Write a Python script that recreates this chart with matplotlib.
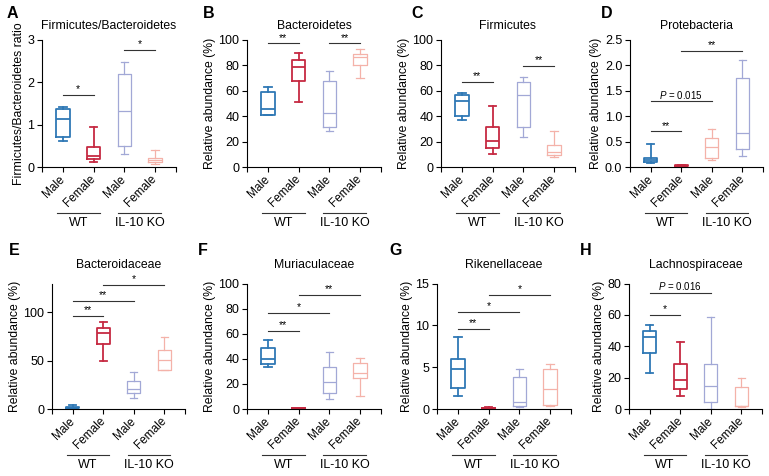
import matplotlib
matplotlib.use("Agg")
import matplotlib.pyplot as plt
import matplotlib.transforms as mtransforms

plt.rcParams['font.family'] = ['Liberation Sans', 'DejaVu Sans']
plt.rcParams['mathtext.fontset'] = 'custom'
plt.rcParams['mathtext.it'] = 'Liberation Sans:italic'
plt.rcParams['mathtext.rm'] = 'Liberation Sans'

groups = ["Male", "Female", "Male", "Female"]
genotypes = ["WT", "IL-10 KO"]

# each box: whisker low, q1, median, q3, whisker high
fb_ratio = [[0.61, 0.71, 1.13, 1.38, 1.41], [0.12, 0.19, 0.27, 0.47, 0.95],
            [0.31, 0.50, 1.33, 2.19, 2.49], [0.08, 0.12, 0.16, 0.22, 0.40]]
bacteroidetes = [[40.8, 41.3, 46.0, 58.7, 62.6], [51.0, 67.6, 79.0, 84.0, 90.0],
                 [28.0, 31.6, 42.6, 67.6, 75.8], [69.7, 80.5, 86.8, 88.7, 92.6]]
firmicutes = [[37.4, 40.3, 51.8, 57.0, 57.9], [10.0, 15.3, 20.5, 31.6, 48.4],
              [23.7, 31.6, 56.6, 67.0, 70.5], [7.9, 9.7, 11.8, 17.6, 28.4]]
protebacteria = [[0.085, 0.10, 0.13, 0.18, 0.46], [0.013, 0.02, 0.026, 0.033, 0.046],
                 [0.14, 0.18, 0.39, 0.57, 0.74], [0.22, 0.36, 0.67, 1.76, 2.11]]
bacteroidaceae = [[0.3, 0.7, 1.4, 2.1, 3.8], [50.0, 67.2, 78.6, 84.0, 90.0],
                  [11.3, 16.5, 21.0, 28.5, 38.8], [40.0, 40.0, 50.3, 60.7, 75.0]]
muriaculaceae = [[33.3, 36.0, 40.0, 48.8, 55.0], [0.3, 0.5, 0.7, 0.9, 1.1],
                 [8.3, 12.8, 21.3, 33.3, 45.6], [10.1, 25.0, 28.8, 36.8, 40.8]]
rikenellaceae = [[1.6, 2.52, 4.8, 6.0, 8.6], [0.05, 0.08, 0.1, 0.13, 0.2],
                 [0.2, 0.39, 0.87, 3.88, 4.76], [0.3, 0.5, 2.45, 4.76, 5.36]]
lachnospiraceae = [[23.0, 35.4, 45.8, 49.7, 53.5], [8.1, 13.0, 18.8, 29.0, 42.6],
                   [0.0, 4.3, 14.9, 28.4, 58.6], [1.3, 1.7, 2.1, 14.1, 19.8]]

# significance bars: (from group, to group, height, label)
sig_a = [(1, 2, 1.71, "*"), (3, 4, 2.76, "*")]
sig_b = [(1, 2, 97.4, "**"), (3, 4, 97.4, "**")]
sig_c = [(1, 2, 67.0, "**"), (3, 4, 79.5, "**")]
sig_d = [(1, 2, 0.70, "**"), (1, 3, 1.29, "$P$ = 0.015"), (2, 4, 2.28, "**")]
sig_e = [(1, 2, 96.6, "**"), (1, 3, 112.0, "**"), (2, 4, 128.6, "*")]
sig_f = [(1, 2, 62.4, "**"), (1, 3, 76.8, "*"), (2, 4, 90.7, "**")]
sig_g = [(1, 2, 9.6, "**"), (1, 3, 11.6, "*"), (2, 4, 13.6, "*")]
sig_h = [(1, 2, 60.0, "*"), (1, 3, 74.2, "$P$ = 0.016")]

BLUE = "#2f78b5"
RED = "#c62a42"
LAV = "#a2a8d6"
PINK = "#f4b2a9"
colors_std = [BLUE, RED, LAV, PINK]
colors_d = [BLUE, RED, PINK, LAV]
widths_std = [1.3, 1.3, 0.9, 0.9]

TOP_B, TOP_H = 1 - 167 / 476, 127 / 476
BOT_B, BOT_H = 1 - 409 / 476, 125.5 / 476
# (letter, title, ylabel, data, sig, ylim, yticks, colors, axes rect, letter x in px)
panels = [
    ("A", "Firmicutes/Bacteroidetes", "Firmicutes/Bacteroidetes ratio", fb_ratio, sig_a,
     (0, 3), [0, 1, 2, 3], colors_std, [42 / 769, TOP_B, 134 / 769, TOP_H], 7),
    ("B", "Bacteroidetes", "Relative abundance (%)", bacteroidetes, sig_b,
     (0, 100), [0, 20, 40, 60, 80, 100], colors_std, [247 / 769, TOP_B, 134 / 769, TOP_H], 203),
    ("C", "Firmicutes", "Relative abundance (%)", firmicutes, sig_c,
     (0, 100), [0, 20, 40, 60, 80, 100], colors_std, [441 / 769, TOP_B, 134 / 769, TOP_H], 411),
    ("D", "Protebacteria", "Relative abundance (%)", protebacteria, sig_d,
     (0, 2.5), [0.0, 0.5, 1.0, 1.5, 2.0, 2.5], colors_d, [630 / 769, TOP_B, 133 / 769, TOP_H], 601),
    ("E", "Bacteroidaceae", "Relative abundance (%)", bacteroidaceae, sig_e,
     (0, 130), [0, 50, 100], colors_std, [52 / 769, BOT_B, 133 / 769, BOT_H], 9),
    ("F", "Muriaculaceae", "Relative abundance (%)", muriaculaceae, sig_f,
     (0, 100), [0, 20, 40, 60, 80, 100], colors_std, [247 / 769, BOT_B, 134 / 769, BOT_H], 198),
    ("G", "Rikenellaceae", "Relative abundance (%)", rikenellaceae, sig_g,
     (0, 15), [0, 5, 10, 15], colors_std, [437 / 769, BOT_B, 134 / 769, BOT_H], 389),
    ("H", "Lachnospiraceae", "Relative abundance (%)", lachnospiraceae, sig_h,
     (0, 80), [0, 20, 40, 60, 80], colors_std, [629 / 769, BOT_B, 133 / 769, BOT_H], 580),
]

fig = plt.figure(figsize=(7.69, 4.76), dpi=100)

for letter, title, ylabel, data, sigs, ylim, yticks, colors, rect, letter_x in panels:
    ax = fig.add_axes(rect)
    for i, (d, c) in enumerate(zip(data, colors)):
        st = dict(whislo=d[0], q1=d[1], med=d[2], q3=d[3], whishi=d[4], fliers=[])
        lw = widths_std[i]
        ax.bxp([st], positions=[i + 1], widths=0.43, showfliers=False,
               boxprops=dict(color=c, linewidth=lw),
               medianprops=dict(color=c, linewidth=lw),
               whiskerprops=dict(color=c, linewidth=lw),
               capprops=dict(color=c, linewidth=lw),
               capwidths=0.24, manage_ticks=False)

    ax.set_xlim(0.32, 4.68)
    ax.set_ylim(*ylim)
    ax.set_yticks(yticks)
    ax.set_xticks([1, 2, 3, 4])
    ax.set_xticklabels(groups, rotation=45, ha="right", va="center",
                       rotation_mode="anchor", fontsize=8.5)
    ax.set_xticks([0.32, 4.68], minor=True)
    ax.tick_params(axis="both", which="both", direction="out", length=3.5, width=0.8)
    ax.tick_params(axis="x", pad=4)
    ax.tick_params(axis="y", labelsize=9, pad=2)
    for s in ("top", "right"):
        ax.spines[s].set_visible(False)
    for s in ("left", "bottom"):
        ax.spines[s].set_linewidth(0.8)

    top_row = letter in "ABCD"
    ax.set_title(title, fontsize=8.8, pad=8 if top_row else 11)
    ax.set_ylabel(ylabel, fontsize=8.8, labelpad=2)

    # significance bars
    for x1, x2, y, label in sigs:
        ax.plot([x1, x2], [y, y], color="#333333", lw=0.8, clip_on=False)
        ax.annotate(label, (0.5 * (x1 + x2), y), xytext=(0, 0.5),
                    textcoords="offset points", ha="center", va="bottom",
                    fontsize=7 if label.startswith("$") else 7.5)

    # genotype group lines and labels under the category labels
    base = mtransforms.blended_transform_factory(ax.transData, ax.transAxes)
    line_tr = base + mtransforms.ScaledTranslation(0, -0.455, fig.dpi_scale_trans)
    text_tr = base + mtransforms.ScaledTranslation(0, -0.555, fig.dpi_scale_trans)
    for (x1, x2), name in zip([(0.8, 2.2), (2.8, 4.2)], genotypes):
        ax.plot([x1, x2], [0, 0], color="#333333", lw=0.8, transform=line_tr, clip_on=False)
        ax.text(0.5 * (x1 + x2), 0, name, transform=text_tr, ha="center", va="center",
                fontsize=9)

    # panel letter
    fig.text(letter_x / 769, rect[1] + rect[3] + (26 if top_row else 33) / 476, letter,
             fontsize=11.5, fontweight="bold", va="center", ha="left")

fig.savefig("out.png", dpi=100)
